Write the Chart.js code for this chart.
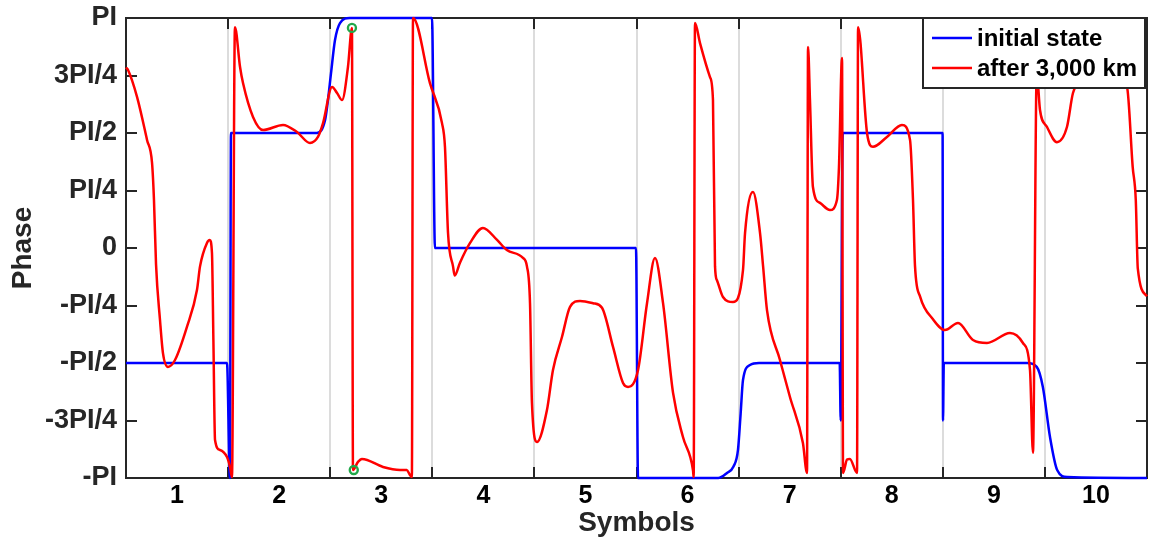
<!DOCTYPE html>
<html>
<head>
<meta charset="utf-8">
<script src="https://cdn.jsdelivr.net/npm/chart.js@4.4.1/dist/chart.umd.min.js"></script>
<style>
    html, body { margin: 0; padding: 0; background: #fff; }
</style>
</head>
<body>
<canvas id="phaseChart" width="1149" height="538"></canvas>
<script>
// x positions are in symbols, y values are in units of PI
var xTickVals = [1, 2, 3, 4, 5, 6, 7, 8, 9, 10];
var symbolEdges = [1.5, 2.5, 3.5, 4.5, 5.5, 6.5, 7.5, 8.5, 9.5];
var yTickVals = [-1, -0.75, -0.5, -0.25, 0, 0.25, 0.5, 0.75, 1];
var yTickLabels = ['-PI', '-3PI/4', '-PI/2', '-PI/4', '0', 'PI/4', 'PI/2', '3PI/4', 'PI'];

// initial state
var blueX = [0.5, 1.489, 1.518, 1.528, 2.30, 2.37, 2.45, 2.478, 2.508, 2.547, 2.596, 2.69, 3.497, 3.526,
    5.495, 5.515, 6.30, 6.386, 6.45, 6.494, 6.52, 6.543, 6.612, 6.70, 7.49, 7.50, 7.52,
    8.498, 8.502, 8.51, 9.325, 9.42, 9.48, 9.55, 9.62, 9.72, 10.5];
var blueY = [-0.5, -0.5, -1, 0.5, 0.5, 0.5, 0.557, 0.643, 0.76, 0.904, 0.978, 1, 1, 0,
    0, -1, -1, -0.978, -0.95, -0.878, -0.72, -0.574, -0.509, -0.5, -0.5, -0.75, 0.5,
    0.5, -0.75, -0.5, -0.5, -0.517, -0.604, -0.822, -0.965, -0.996, -1];

// after 3,000 km
var redX = [0.5, 0.52, 0.608, 0.706, 0.755, 0.774, 0.794, 0.833, 0.862, 0.911, 0.98, 1.097, 1.195, 1.225,
    1.293, 1.32, 1.342, 1.356, 1.372, 1.42, 1.489, 1.519, 1.538, 1.567, 1.617, 1.646, 1.744, 1.842,
    2.038, 2.175, 2.302, 2.38, 2.43, 2.518, 2.567, 2.616, 2.674, 2.713, 2.723, 2.772, 2.811, 3.017,
    3.184, 3.25, 3.281, 3.30, 3.311, 3.477, 3.595, 3.624, 3.654, 3.703, 3.72, 3.77, 3.87, 3.996,
    4.134, 4.23, 4.388, 4.427, 4.457, 4.476, 4.525, 4.623, 4.682, 4.77, 4.849, 4.947, 5.074, 5.162,
    5.27, 5.368, 5.417, 5.515, 5.603, 5.681, 5.76, 5.858, 5.955, 6.053, 6.06, 6.073, 6.122, 6.22,
    6.249, 6.269, 6.288, 6.347, 6.445, 6.543, 6.563, 6.641, 6.71, 6.74, 6.778, 6.905, 7.003, 7.13,
    7.17, 7.18, 7.199, 7.228, 7.297, 7.395, 7.463, 7.483, 7.513, 7.523, 7.562, 7.59, 7.66, 7.67,
    7.758, 7.816, 7.953, 8.10, 8.179, 8.208, 8.228, 8.277, 8.404, 8.521, 8.649, 8.796, 8.933, 9.158,
    9.285, 9.354, 9.383, 9.42, 9.452, 9.521, 9.618, 9.716, 9.775, 9.844, 10.0, 10.2, 10.304, 10.36,
    10.39, 10.41, 10.5];
var redY = [0.785, 0.774, 0.657, 0.47, 0.37, 0.209, -0.07, -0.313, -0.457, -0.517, -0.487, -0.343, -0.183, -0.08,
    0.022, 0.035, -0.022, -0.4, -0.835, -0.878, -0.909, -0.952, -0.996, 0.96, 0.787, 0.717, 0.57, 0.513,
    0.535, 0.504, 0.457, 0.483, 0.543, 0.70, 0.674, 0.643, 0.787, 0.957, -0.965, -0.93, -0.917, -0.952,
    -0.965, -0.965, -0.987, -0.996, 1.0, 0.717, 0.543, 0.44, 0.065, -0.08, -0.12, -0.065, 0.022, 0.087,
    0.035, -0.009, -0.043, -0.08, -0.24, -0.674, -0.843, -0.704, -0.53, -0.387, -0.256, -0.23, -0.24, -0.26,
    -0.43, -0.587, -0.604, -0.53, -0.24, -0.043, -0.24, -0.63, -0.822, -0.965, -0.996, 0.978, 0.891, 0.743,
    0.643, -0.08, -0.14, -0.213, -0.235, -0.096, 0.065, 0.243, 0.065, -0.08, -0.27, -0.487, -0.648, -0.848,
    -0.978, 0.874, 0.643, 0.265, 0.196, 0.165, 0.209, 0.352, 0.826, -0.978, -0.92, -0.917, -0.978, 0.96,
    0.5, 0.44, 0.483, 0.535, 0.47, 0.21, -0.08, -0.21, -0.31, -0.357, -0.326, -0.4, -0.413, -0.37,
    -0.413, -0.53, -0.89, 0.76, 0.6, 0.526, 0.46, 0.526, 0.674, 0.72, 0.76, 0.74, 0.70, 0.352,
    0.21, -0.09, -0.21];

// highlighted samples
var markX = [2.713, 2.731];
var markY = [0.957, -0.965];

function toPoints(xs, ys) {
    return xs.map(function (x, i) { return { x: x, y: ys[i] }; });
}

var inkColor = '#262626';

// keep the plot box where the figure has it: no extra room for label overhang
function noOverhang(scale) {
    scale.paddingTop = 0;
    scale.paddingBottom = 0;
    scale.paddingLeft = 0;
    scale.paddingRight = 0;
}

// box, inner tick marks
var framePlugin = {
    id: 'frame',
    beforeDatasetsDraw: function (chart) {
        var ctx = chart.ctx, a = chart.chartArea;
        var sx = chart.scales.x, sy = chart.scales.y;
        ctx.save();
        ctx.strokeStyle = inkColor;
        ctx.lineWidth = 2;
        ctx.beginPath();
        symbolEdges.forEach(function (v) {
            var px = Math.round(sx.getPixelForValue(v));
            ctx.moveTo(px, a.top); ctx.lineTo(px, a.top + 11);
            ctx.moveTo(px, a.bottom); ctx.lineTo(px, a.bottom - 11);
        });
        yTickVals.forEach(function (v) {
            var py = Math.round(sy.getPixelForValue(v));
            ctx.moveTo(a.left, py); ctx.lineTo(a.left + 11, py);
            ctx.moveTo(a.right, py); ctx.lineTo(a.right - 11, py);
        });
        ctx.stroke();
        ctx.strokeRect(a.left, a.top, a.right - a.left, a.bottom - a.top);
        ctx.restore();
    }
};

// boxed legend inside the top right corner
var boxLegendPlugin = {
    id: 'boxLegend',
    afterDatasetsDraw: function (chart) {
        var ctx = chart.ctx, a = chart.chartArea;
        var w = 222, h = 70;
        var left = a.right - 2 - w, top = a.top;
        ctx.save();
        ctx.fillStyle = '#fff';
        ctx.fillRect(left, top, w, h);
        ctx.strokeStyle = inkColor;
        ctx.lineWidth = 2;
        ctx.strokeRect(left, top, w, h);
        ctx.font = 'bold 24px "Liberation Sans", Arial, sans-serif';
        ctx.textBaseline = 'middle';
        ctx.fillStyle = '#000';
        chart.data.datasets.slice(0, 2).forEach(function (ds, i) {
            var y = top + 20 + i * 30;
            ctx.strokeStyle = ds.borderColor;
            ctx.lineWidth = 2.5;
            ctx.beginPath();
            ctx.moveTo(left + 9, y);
            ctx.lineTo(left + 49, y);
            ctx.stroke();
            ctx.fillText(ds.label, left + 54, y + 1);
        });
        ctx.restore();
    }
};

var ctx = document.getElementById('phaseChart').getContext('2d');
var phaseChart = new Chart(ctx, {
    type: 'line',
    data: {
        datasets: [{
            label: 'initial state',
            data: toPoints(blueX, blueY),
            borderColor: '#0000ff',
            borderWidth: 2.5,
            pointRadius: 0,
            cubicInterpolationMode: 'monotone',
            clip: 4,
            order: 2
        }, {
            label: 'after 3,000 km',
            data: toPoints(redX, redY),
            borderColor: '#ff0000',
            borderWidth: 2.5,
            pointRadius: 0,
            cubicInterpolationMode: 'monotone',
            clip: 4,
            order: 1
        }, {
            label: 'marks',
            data: toPoints(markX, markY),
            showLine: false,
            pointRadius: 4,
            pointBorderWidth: 2.4,
            pointBorderColor: '#22a84a',
            pointBackgroundColor: 'rgba(0,0,0,0)',
            clip: 6,
            order: 0
        }]
    },
    options: {
        responsive: false,
        animation: false,
        layout: { autoPadding: false, padding: { top: 18, right: 2, left: 0, bottom: 0 } },
        plugins: {
            legend: { display: false },
            tooltip: { enabled: false }
        },
        scales: {
            x: {
                type: 'linear',
                min: 0.5,
                max: 10.5,
                afterBuildTicks: function (scale) {
                    scale.ticks = xTickVals.map(function (v) { return { value: v }; });
                },
                afterFit: function (scale) { scale.height = 60; noOverhang(scale); },
                grid: { display: false, drawTicks: false },
                border: { display: false },
                ticks: {
                    padding: 3,
                    maxRotation: 0,
                    color: '#000',
                    font: { family: '"Liberation Sans", Arial, sans-serif', size: 25, weight: 'bold' }
                },
                title: {
                    display: true,
                    text: 'Symbols',
                    color: inkColor,
                    padding: { top: 0, bottom: -2 },
                    font: { family: '"Liberation Sans", Arial, sans-serif', size: 28, weight: 'bold' }
                }
            },
            x2: {
                type: 'linear',
                position: 'top',
                min: 0.5,
                max: 10.5,
                afterBuildTicks: function (scale) {
                    scale.ticks = symbolEdges.map(function (v) { return { value: v }; });
                },
                afterFit: function (scale) { scale.height = 0; noOverhang(scale); },
                grid: { color: '#dcdcdc', lineWidth: 2, drawTicks: false },
                border: { display: false },
                ticks: { display: false }
            },
            y: {
                min: -1,
                max: 1,
                afterBuildTicks: function (scale) {
                    scale.ticks = yTickVals.map(function (v) { return { value: v }; });
                },
                afterFit: function (scale) { scale.width = 126; noOverhang(scale); },
                grid: { display: false, drawTicks: false },
                border: { display: false },
                ticks: {
                    padding: 9,
                    color: inkColor,
                    font: { family: '"Liberation Sans", Arial, sans-serif', size: 27, weight: 'bold' },
                    callback: function (value) {
                        return yTickLabels[yTickVals.indexOf(value)];
                    }
                },
                title: {
                    display: true,
                    text: 'Phase',
                    color: inkColor,
                    padding: { top: 6, bottom: 0 },
                    font: { family: '"Liberation Sans", Arial, sans-serif', size: 28, weight: 'bold' }
                }
            }
        }
    },
    plugins: [framePlugin, boxLegendPlugin]
});
</script>
</body>
</html>
